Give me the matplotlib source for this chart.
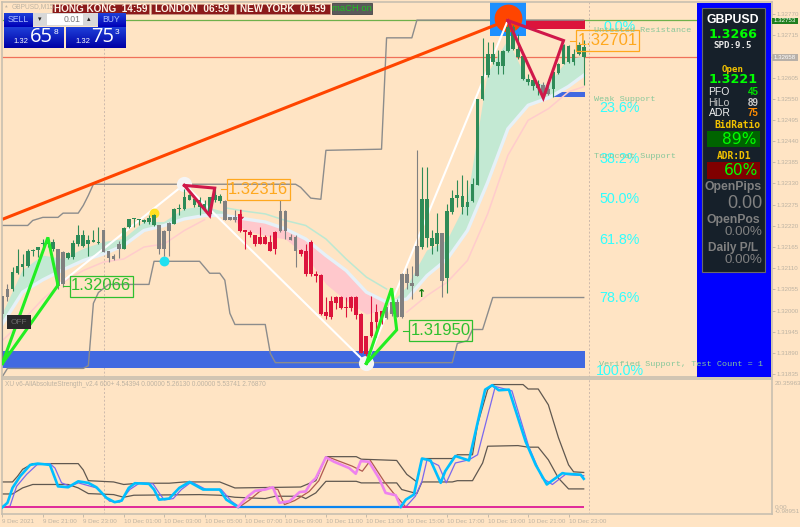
import numpy as np
import matplotlib
matplotlib.use("Agg")
import matplotlib.pyplot as plt
from matplotlib.patches import Rectangle, Circle

BG = '#FFE4C4'; SPINE = '#C8BFB0'; FAINT = '#BDB3A3'
UNIT = 1e-5

# ---- candles (price points, 1e-5) ----
c_open = [132039,132036,132056,132098,132114,132117,132154,132158,132172,132173,132159,132160,132152,132137,132139,132172,132169,132172,132178,132176,132208,132154,132143,132173,132160,132217,132237,132235,132230,132230,132221,132221,132206,132227,132225,132263,132264,132288,132273,132269,132264,132251,132286,132284,132284,132243,132244,132251,132208,132204,132195,132192,132192,132178,132204,132258,132258,132192,132192,132158,132154,132179,132095,132093,131996,132026,132036,132036,132010,132035,132035,131991,131933,131970,131997,131998,132009,132022,132022,132095,132095,132071,132167,132165,132189,132169,132172,132202,132085,132256,132293,132269,132269,132284,132327,132550,132611,132644,132634,132634,132674,132678,132657,132601,132594,132582,132579,132585,132576,132576,132617,132641,132646,132646,132666,132657]
c_high = [132039,132069,132113,132160,132147,132160,132160,132166,132186,132191,132186,132160,132156,132152,132182,132221,132208,132195,132208,132217,132208,132156,132146,132180,132217,132238,132241,132238,132237,132247,132251,132221,132208,132230,132266,132277,132316,132302,132295,132295,132286,132296,132321,132303,132286,132244,132260,132256,132210,132208,132197,132217,132195,132195,132206,132286,132260,132199,132195,132160,132173,132184,132104,132095,132035,132039,132039,132039,132035,132039,132039,131993,131935,132039,132017,132000,132010,132026,132030,132097,132111,132117,132418,132373,132373,132208,132254,132202,132277,132312,132338,132351,132338,132345,132550,132708,132698,132698,132676,132676,132754,132741,132719,132663,132615,132602,132598,132594,132585,132622,132643,132693,132689,132680,132698,132702]
c_low = [131870,132026,132052,132095,132091,132113,132143,132139,132165,132165,132156,132056,132061,132134,132134,132169,132166,132143,132178,132173,132152,132127,132132,132137,132159,132215,132217,132221,132228,132225,132219,132146,132143,132143,132224,132247,132260,132286,132269,132247,132260,132250,132282,132279,132234,132234,132230,132204,132160,132191,132169,132172,132172,132154,132147,132204,132186,132182,132113,132143,132091,132091,132074,131989,131978,131978,132004,132004,131983,132000,131978,131890,131883,131931,131931,131965,131978,131987,131983,131981,132056,132030,132091,132160,132165,132146,132156,132035,132045,132251,132269,132251,132247,132282,132325,132546,132607,132641,132615,132615,132672,132676,132654,132598,132585,132572,132559,132550,132559,132555,132615,132640,132643,132637,132663,132585]
c_close = [131991,132056,132100,132117,132121,132156,132158,132165,132175,132184,132178,132065,132068,132149,132175,132195,132197,132184,132184,132179,132152,132137,132133,132160,132214,132237,132240,132237,132236,132241,132249,132159,132159,132206,132264,132266,132296,132299,132290,132286,132276,132295,132299,132297,132236,132236,132236,132206,132204,132195,132172,132173,132173,132156,132160,132206,132206,132184,132154,132146,132094,132094,132091,131991,131987,131984,132019,132006,132007,132007,131989,131891,131887,131933,131970,131976,131980,131991,131984,131983,132071,132064,132091,132290,132290,132189,132202,132076,132258,132293,132299,132297,132283,132328,132550,132609,132667,132665,132646,132674,132737,132737,132679,132660,132602,132598,132589,132563,132563,132620,132641,132689,132686,132666,132689,132685]
GRAY_BARS = [0,1,11,12,20,21,22,23,31,32,33,44,45,46,55,56,57,58,76,77,78,79,80,81,82,87,107,108]

# ---- moving average channel, knots every 4 bars ----
ma_bars = [0,4,8,12,16,20,24,28,32,36,40,44,48,52,56,60,64,68,72,76,80,84,88,92,96,100,104,108,112,115]
ma_fast = [131991,132104,132143,132134,132160,132178,132186,132230,132230,132264,132270,132256,132208,132195,132186,132143,132069,132026,131991,132004,132061,132156,132182,132286,132615,132702,132594,132585,132654,132659]
ma_mid  = [131965,132048,132080,132106,132130,132147,132169,132208,132221,132238,132247,132247,132238,132230,132212,132186,132143,132104,132048,132022,132030,132091,132134,132208,132333,132472,132533,132552,132582,132611]
ma_slow = [131922,131974,132030,132074,132104,132126,132134,132165,132173,132208,132236,132267,132258,132251,132234,132221,132186,132134,132087,132056,131996,132039,132074,132130,132251,132403,132494,132524,132568,132581]

# ---- support / resistance envelope ----
up_bars = [0,5,6,8,11,12,15,16,17,18,58,59,61,63,64,75,76,81,82,115]
up_vals = [132221,132221,132234,132242,132242,132253,132253,132273,132299,132328,132328,132320,132292,132289,132416,132419,132708,132708,132754,132754]
lo_bars = [0,1,16,17,18,19,21,29,30,39,41,43,44,45,46,52,53,54,89,90,92,93,95,97,115]
lo_vals = [131829,131850,131850,131857,132019,132047,132068,132068,132128,132128,132097,132097,132079,131993,131964,131964,131889,131865,131865,131915,131922,131951,131951,132034,132034]

# ---- zigzag ----
zz_bars = [11,36,72,100]
zz_vals = [132066,132328,131863,132754]
trend_bars = [0,100]; trend_vals = [132237,132754]
green_tri1 = ([0,9,11,0],[131863,132190,132066,131863])
green_tri2 = ([72,77,78,72],[131863,132058,131950,131863])
red_tri1 = ([36,42,41,36],[132325,132318,132247,132325])
red_tri2 = ([100,111,107,100],[132753,132701,132552,132753])

bid_line = 132753; ask_line = 132658
y_ticks = [1.32770,1.32715,1.32660,1.32605,1.32550,1.32495,1.32440,1.32385,1.32330,1.32275,1.32220,1.32165,1.32110,1.32055,1.32000,1.31945,1.31890,1.31835]
fib_pct = [0.0,23.6,38.2,50.0,61.8,78.6,100.0]
fib_top = 132736; fib_bot = 131842

# ---- sub window ----
ub_x = [0,2,3,4,6,15,16,17,22,24,27,33,36,43,46,59,62,64,70,71,78,80,82,83,89,90,93,94,96,97,103,104,106,108,110,112,113,115]
ub_y = [4.0,4.0,4.9,6.0,6.9,6.9,5.9,4.2,4.0,3.6,3.8,3.8,4.0,4.0,3.05,3.2,4.2,8.0,8.0,7.6,7.4,5.2,4.0,7.7,7.7,8.3,8.3,13.1,18.6,19.4,19.4,18.7,18.7,16.2,11.0,6.7,5.6,5.5]
lb_x = [0,2,4,6,13,15,17,22,24,26,39,43,46,52,54,59,60,62,64,70,71,78,79,82,83,89,90,93,95,96,102,104,106,108,110,112,115]
lb_y = [2.1,2.1,3.06,3.6,3.6,3.06,2.16,2.0,1.58,1.9,2.0,1.9,1.58,1.37,1.74,1.74,1.37,2.27,4.1,4.1,3.85,3.85,2.8,2.16,4.0,4.0,4.2,4.2,7.0,9.65,9.75,9.5,9.5,7.5,4.6,2.9,2.9]
main_x = [0,1,2,3.5,5.5,7,9.4,10.4,11,13,15,17,18.6,20.6,22.2,23.6,25,26.2,29,30,31,33,35,37,39.7,43,44.3,46.6,48.6,50,52,53.5,54.8,56.8,58.8,60,61,62,64,65.6,68.6,69.9,70.9,72.5,74.5,75.8,77.8,78.8,79.8,81.4,83,84.7,86.7,87.6,89.6,92.3,95.5,96.9,98.2,100.2,103.5,105.5,107.7,110.8,111.4,114.4,115]
main_y = [0,0.7,3.06,4.9,6.7,6.9,6.7,4.6,3.3,3.16,4.1,3.85,3.16,1.48,0.8,1.05,3.06,3.8,3.7,2.8,1.2,1.37,3.06,4.0,2.8,2.8,1.2,0.05,1.74,2.6,2.8,3.16,0.7,0.95,2.4,2.5,3.85,4.6,7.9,7.2,6.2,5.3,7.3,7.2,4.6,2.27,1.9,0.05,1.2,2.0,7.7,7.4,3.86,5.7,8.1,7.4,18.6,19.3,18.5,18.6,10.4,6.7,3.6,5.4,5.3,5.15,4.5]
sig_x = [0,1.5,2.8,4.8,6.8,9.4,10.4,11.7,13.4,15,18.6,21.2,23.2,25.2,27.2,29.8,31,32,33.8,35.4,37.4,40.3,43.3,45.3,46.9,48.9,50.9,52.8,54.5,55.8,57.8,58.7,60.7,62.6,64.6,66.9,69.2,71.2,72.8,75.5,77.5,79.8,81.7,83,84,86.3,87.8,89.6,92.3,94,97.5,100.8,104.1,106.8,108.8,111.4,115]
sig_y = [0,0.16,3.3,5.2,6.7,6.9,6.2,3.86,3.3,3.86,3.06,0.95,0.8,2.8,3.86,3.7,2.27,1.16,1.37,2.8,4.0,2.8,2.8,0.95,0.05,1.16,2.5,3.16,2.8,0.42,1.05,1.48,2.5,4.2,7.9,7.2,6.5,5.7,7.4,4.1,2.1,0.05,1.75,4.1,7.5,6.6,3.86,7.0,7.5,8.3,19.1,18.4,9.65,4.6,3.6,5.2,5.0]
bear_start = 46.6; bear_end = 78.8

time_ticks = list(range(0,113,8))
time_labels = ['9 Dec 2021','9 Dec 21:00','9 Dec 23:00','10 Dec 01:00','10 Dec 03:00','10 Dec 05:00','10 Dec 07:00','10 Dec 09:00','10 Dec 11:00','10 Dec 13:00','10 Dec 15:00','10 Dec 17:00','10 Dec 19:00','10 Dec 21:00','10 Dec 23:00']

plt.rcParams['font.family'] = ['Liberation Sans','DejaVu Sans']
W, H = 800, 527
fig = plt.figure(figsize=(W/100, H/100), dpi=100, facecolor=BG)

def axrect(l, t, r, b):
    return [l/W, 1-b/H, (r-l)/W, (b-t)/H]

X0 = 2.4; DX = 5.055
XLIM = ((2-X0)/DX, (772-X0)/DX)
def pts(a): return np.array(a, float)*UNIT

# ================= main window =================
ax = fig.add_axes(axrect(2, 2, 772, 376.5), facecolor=BG)
ax.set_xlim(*XLIM)
ax.set_ylim(1.31829, 1.32801)
for s in ax.spines.values():
    s.set_color(SPINE); s.set_linewidth(1.2)
ax.set_xticks([])
ax.yaxis.tick_right()
ax.set_yticks(y_ticks)
ax.set_yticklabels(['' if abs(v-1.3266)<1e-6 else f'{v:.5f}' for v in y_ticks], fontsize=4.4, color=FAINT)
ax.tick_params(axis='y', length=2, width=0.6, color=FAINT, pad=1.5)

ax.axvline(20, color='#CDB9AC', lw=0.7, ls=(0,(2,2)), zorder=0.5)
ax.axvline(116, color='#CDB9AC', lw=0.7, ls=(0,(2,2)), zorder=0.5)

ax.hlines(bid_line*UNIT, XLIM[0], XLIM[1], color='#6FB04A', lw=0.9, zorder=1)
ax.hlines(ask_line*UNIT, XLIM[0], XLIM[1], color='#F0705A', lw=0.9, zorder=1)

# zones
ax.fill_between([-1,115.2],131850*UNIT,131896*UNIT,color='#4169E1',lw=0,zorder=1)
ax.fill_between([103.5,115.2],132731*UNIT,132753*UNIT,color='#DC143C',lw=0,zorder=1.1)
ax.fill([108.2,115.2,115.2,109.8],np.array([132554,132554,132567,132567])*UNIT,color='#4169E1',lw=0,zorder=1.1)

# channel
b = np.array(ma_bars, float); f = pts(ma_fast); m = pts(ma_mid); s_ = pts(ma_slow)
ax.fill_between(b,f,m,where=f>=m,interpolate=True,color='#C3E9D3',lw=0,zorder=1.2)
ax.fill_between(b,f,m,where=f<=m,interpolate=True,color='#FFC8CC',lw=0,zorder=1.2)
pink = '#FFCCCC'; teal = '#BCE8D2'
ax.plot(b[b<=40],s_[b<=40],color=pink,lw=1.1,zorder=1.3)
ax.plot(b[(b>=44)&(b<=76)],s_[(b>=44)&(b<=76)],color=teal,lw=1.1,zorder=1.3)
ax.plot(b[b>=80],s_[b>=80],color=pink,lw=1.1,zorder=1.3)
ax.plot(b,m,color='#E6F1F8',lw=2.4,zorder=1.4)

# S/R envelope
ax.plot(up_bars,pts(up_vals),color='#8C8C8C',lw=1.0,zorder=1.5)
ax.plot(lo_bars,pts(lo_vals),color='#8C8C8C',lw=1.0,zorder=1.5)

# zigzag & trend
ax.plot(trend_bars,pts(trend_vals),color='#FF4500',lw=2.2,zorder=1.6,solid_capstyle='butt')
ax.scatter([100],[132760*UNIT],marker='s',s=640,color='#1E90FF',lw=0,zorder=1.55)
ax.scatter([100],[132760*UNIT],marker='o',s=400,color='#FF4500',lw=0,zorder=1.7)
ax.plot(zz_bars,pts(zz_vals),color='white',lw=1.5,zorder=1.8)
ax.scatter([zz_bars[1],zz_bars[2]],pts([zz_vals[1],zz_vals[2]]),s=120,color='#F5F5F5',lw=0,zorder=1.9)

# candles
for i,(o,h,l,c) in enumerate(zip(pts(c_open),pts(c_high),pts(c_low),pts(c_close))):
    col = '#808080' if i in GRAY_BARS else ('#2E8B57' if c>=o else '#DC143C')
    ax.vlines(i,l,h,color=col,lw=0.8,zorder=3)
    ax.bar(i,max(abs(c-o),3e-5),bottom=min(o,c),width=0.74,color=col,lw=0,zorder=3.1)

# signals
ax.scatter([30],[132253*UNIT],s=50,color='#FFE020',lw=0,zorder=2.9)
ax.scatter([32],[132130*UNIT],s=50,color='#20E0F0',lw=0,zorder=2.9)
ax.text(47,132245*UNIT,'\u2193',color='#DC143C',fontsize=10,fontweight='bold',ha='center',va='center',family='DejaVu Sans',zorder=4)
ax.text(83,132042*UNIT,'\u2191',color='#0E7A0E',fontsize=8,fontweight='bold',ha='center',va='center',family='DejaVu Sans',zorder=4)

# triangles
for tri,col in ((green_tri1,'#22EE22'),(green_tri2,'#22EE22'),(red_tri1,'#D0184A'),(red_tri2,'#D0184A')):
    ax.plot(tri[0],pts(tri[1]),color=col,lw=2.2,zorder=5,solid_joinstyle='miter')

# fibonacci labels
for p in fib_pct:
    lvl = (fib_top-(fib_top-fib_bot)*p/100)*UNIT
    ax.text(122.1,lvl,f'{p:.1f}%',color='#30FFFF',fontsize=10.3,ha='center',va='center',zorder=6,clip_on=False)

# ================= sub window =================
sub = fig.add_axes(axrect(2, 378.5, 772, 513.5), facecolor=BG)
sub.set_xlim(*XLIM)
sub.set_ylim(-0.98951, 20.35963)
for s in sub.spines.values():
    s.set_color(SPINE); s.set_linewidth(1.2)
sub.yaxis.tick_right()
sub.set_yticks([20.35963-0.7, 0.0, -0.55])
sub.set_yticklabels(['20.35963','0.00','-0.98951'],fontsize=4.6,color=FAINT)
sub.tick_params(axis='y',length=0,pad=2)
sub.set_xticks(time_ticks)
sub.set_xticklabels(time_labels,fontsize=4.5,color=FAINT)
sub.tick_params(axis='x',length=2,width=0.6,color=FAINT,pad=2)
for lab in sub.get_xticklabels():
    lab.set_ha('left')
sub.axvline(20,color='#CDB9AC',lw=0.7,ls=(0,(2,2)),zorder=0.5)
sub.axvline(116,color='#CDB9AC',lw=0.7,ls=(0,(2,2)),zorder=0.5)

sub.plot(ub_x,ub_y,color='#605850',lw=0.9,zorder=2)
sub.plot(lb_x,lb_y,color='#605850',lw=0.9,zorder=2)
mx=np.array(main_x); my=np.array(main_y); sx=np.array(sig_x); sy=np.array(sig_y)
for lo,hi,mc,sc in ((-1,bear_start,'#00BFFF','#7B68EE'),(bear_start,bear_end,'#EE82EE','#B05A50'),(bear_end,116,'#00BFFF','#7B68EE')):
    k=(sx>=lo-0.4)&(sx<=hi+1.1)
    sub.plot(sx[k],sy[k],color=sc,lw=0.9,zorder=3)
    k=(mx>=lo)&(mx<=hi)
    sub.plot(mx[k],my[k],color=mc,lw=1.9,zorder=4)
sub.hlines(0,0,bear_start,color='#E0289A',lw=1.4,zorder=3.5)
sub.hlines(0,bear_start,bear_end,color='#0A84F0',lw=1.6,zorder=3.5)
sub.hlines(0,bear_end,115,color='#E0289A',lw=1.4,zorder=3.5)

# ================= interface layer (pixel space) =================
ui = fig.add_axes([0,0,1,1],facecolor='none',zorder=10)
ui.set_xlim(0,W); ui.set_ylim(H,0); ui.axis('off')

def rect(x0,y0,x1,y1,fc,ec='none',lw=0,z=1):
    ui.add_patch(Rectangle((x0,y0),x1-x0,y1-y0,fc=fc,ec=ec,lw=lw,zorder=z))
def txt(x,y,s,color='white',size=7,ha='center',weight='normal',family=None,z=3):
    kw={'family':family} if family else {}
    ui.text(x,y,s,color=color,fontsize=size,ha=ha,va='center',fontweight=weight,zorder=z,**kw)

# title and clocks
txt(12,7,'GBPUSD,M15',FAINT,4.8,'left')
txt(6,7,'\u25b2',FAINT,2.5,family='DejaVu Sans')
for x0,x1,s in ((52,149,'HONG KONG  14:59'),(151,234,'LONDON  06:59'),(236,330,'NEW YORK  01:59')):
    rect(x0,4,x1,13.5,'#8B1A1A','#C8A090',0.4)
    txt((x0+x1)/2,8.8,s,'#FFF4E8',7.2,weight='bold')
rect(332,3,372,14,'#5A5A5A','#444444',0.6)
txt(352,8.8,'maCH on','#22C022',6.8)

# trade panel
def grad(x0,y0,x1,y1,top,bot):
    g=np.linspace(0,1,32)[:,None,None]
    col=(1-g)*np.array(top)+g*np.array(bot)
    ui.imshow(col,extent=(x0,x1,y1,y0),aspect='auto',zorder=2)
top=(0.12,0.25,0.85); bot=(0.0,0.0,0.72)
grad(4,13,33,27,top,bot); grad(98,13,126,27,top,bot)
grad(4,27,64,48,top,(0,0,0.65)); grad(66,27,126,48,top,(0,0,0.65))
rect(33,13,98,26,'#D8D8D8',z=2)
rect(47,13.5,83,25,'white',z=2.1)
txt(18,19.5,'SELL','#AFC0FF',6.2); txt(111,19.5,'BUY','#AFC0FF',6.2)
txt(81,19,'0.01','#7A7A7A',6.2,'right')
txt(40,19,'\u25be','#222222',5,family='DejaVu Sans'); txt(89,19,'\u25b4','#222222',5,family='DejaVu Sans')
txt(20.5,41.5,'1.32','white',5.5); txt(41,37.5,'65','white',14.5,family='Open Sans'); txt(56,32,'8','white',6)
txt(82.5,41.5,'1.32','white',5.5); txt(103,37.5,'75','white',14.5,family='Open Sans'); txt(117,32,'3','white',6)

# OFF button
rect(7,315,31,329,'#2A2A2A'); txt(19,322,'OFF','#6A6A6A',6)

# price tags
for (lbl_x,lbl_y,s,col,ln) in ((258,189,'1.32316','#FFA81E',221),(101,286,'1.32066','#2EC02E',63),(440.5,330.5,'1.31950','#2EC02E',403),(607.5,40.5,'1.32701','#FFA81E',570)):
    w=31.5; h=10.5
    rect(lbl_x-w,lbl_y-h,lbl_x+w,lbl_y+h,'none',col,0.9,z=2)
    ui.plot([ln,lbl_x-w],[lbl_y,lbl_y],color=col,lw=0.8,zorder=2)
    txt(lbl_x,lbl_y,s,col,12)

# right dashboard
rect(697,3,771,377,'#0000FF')
rect(702,7.5,765,272,'#16202A','#6A6A6A',0.8,z=1.5)
CX=733
txt(CX,20,'GBPUSD','white',8.8,weight='bold')
txt(CX,34,'1.3266','#00FF00',9.2,weight='bold',family='DejaVu Sans')
txt(CX,45.5,'SPD:9.5','#E8E8E8',6.6,weight='bold',family='DejaVu Sans Mono')
txt(CX,69,'Open','#F2C200',6.6,weight='bold',family='DejaVu Sans Mono')
txt(CX,79.5,'1.3221','#00FF00',9.2,weight='bold',family='DejaVu Sans')
for y,l,v,lc,vc in ((92,'PFO','45','#F0F0F0','#00E000'),(102.5,'HiLo','89','#C8C8C8','#C8C8C8'),(113,'ADR','75','#F0F0F0','#FF8C00')):
    txt(708.5,y,l,lc,7.5,'left')
    txt(758.5,y,v,vc,7,'right',weight='bold')
txt(CX+4,125,'BidRatio','#F2C200',6.9,weight='bold',family='DejaVu Sans Mono')
rect(707,131,760,147,'#006400',z=2)
txt(739,139.5,'89%','#00FF00',11.2,z=3,family='DejaVu Sans')
txt(CX+1,156,'ADR:D1','#F2C200',6.9,weight='bold',family='DejaVu Sans Mono')
rect(707,162,760,179,'#800000',z=2)
txt(741,170.5,'60%','#00FF00',11.2,z=3,family='DejaVu Sans')
G='#808080'
txt(CX,187,'OpenPips',G,8.8,weight='bold')
txt(762,203,'0.00',G,13,'right')
txt(CX,220,'OpenPos',G,8.8,weight='bold')
txt(762.5,232,'0.00%',G,9.6,'right')
txt(CX,248,'Daily P/L',G,8.6,weight='bold')
txt(762.5,260,'0.00%',G,9.6,'right')

# zone captions
ZC='#86C79A'
for x,y,s in ((594,30,'Untested Resistance'),(594,99.5,'Weak Support'),(594,156,'Turncoat Support'),(599,364,'Verified Support, Test Count = 1')):
    txt(x,y,s,ZC,6.1,'left',family='Liberation Mono',z=4)

# axis price tags
rect(772,17.5,798,23.8,'#1F7F1F')
txt(785,20.7,'1.32753','white',4.4)
rect(772,54,798,61,'#B8B0A8')
txt(785,57.5,'1.32658','white',4.4)

# sub window caption
txt(5,384,'XU v6-AllAbsoluteStrength_v2.4 600+ 4.54394 0.00000 5.26130 0.00000 5.53741 2.76870',FAINT,4.7,'left')

ui.set_xlim(0,W); ui.set_ylim(H,0)
fig.savefig('out.png',dpi=100,facecolor=BG)
